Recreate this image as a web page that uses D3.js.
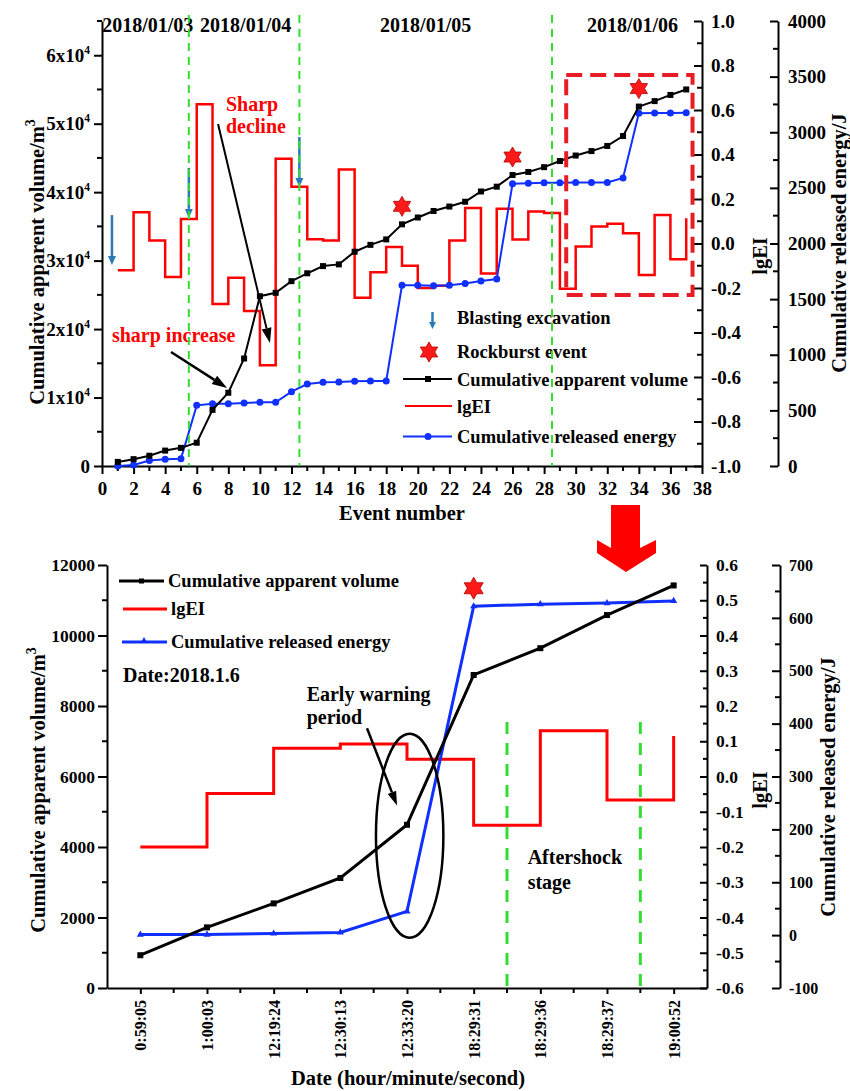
<!DOCTYPE html>
<html>
<head>
<meta charset="utf-8">
<script src="https://cdn.jsdelivr.net/npm/d3@7/dist/d3.min.js"></script>
<style>
    body { margin: 0; background: #fff; }
    svg { font-family: "Liberation Serif", "Times New Roman", serif; font-weight: bold; }
    .axis path, .axis line { stroke: #000; stroke-width: 2; }
    .axis text { font-family: "Liberation Serif", "Times New Roman", serif; font-size: 19px; font-weight: bold; fill: #000; }
    .bax text { font-size: 17.5px; }
    .small text { font-size: 16px; }
    .title { font-size: 20.5px; }
    .label { font-size: 18.5px; }
    .note { font-size: 20px; }
</style>
</head>
<body>
<svg id="chart" width="850" height="1091"></svg>
<script>
// ---- top panel data (event number 1..37) ------------------------------
var topEvents = [1, 2, 3, 4, 5, 6, 7, 8, 9, 10, 11, 12, 13, 14, 15, 16, 17, 18, 19,
                 20, 21, 22, 23, 24, 25, 26, 27, 28, 29, 30, 31, 32, 33, 34, 35, 36, 37];
var topVolume = [600, 1000, 1500, 2250, 2650, 3400, 8200, 10700, 15700, 24800, 25300, 27000,
                 28150, 29200, 29450, 31300, 32300, 33100, 35300, 36300, 37250, 37900, 38600,
                 40100, 40800, 42500, 42950, 43650, 44550, 45350, 46000, 46750, 48200, 52500,
                 53300, 54200, 55000];
var topLgEI = [-0.12, 0.14, 0.013, -0.15, 0.11, 0.626, -0.272, -0.154, -0.303, -0.547, 0.381,
               0.255, 0.019, 0.014, 0.333, -0.244, -0.129, -0.016, -0.1, -0.2, -0.19, 0.013,
               0.16, -0.135, 0.156, 0.018, 0.144, 0.137, -0.203, -0.014, 0.076, 0.089, 0.046,
               -0.142, 0.128, -0.071, 0.113];
var topEnergy = [0, 10, 50, 60, 65, 545, 560, 560, 566, 572, 572, 668, 737, 752, 755, 762, 764,
                 764, 1624, 1624, 1621, 1624, 1641, 1663, 1680, 2537, 2541, 2547, 2547, 2548,
                 2548, 2549, 2589, 3171, 3172, 3173, 3176];

var topDates = ['2018/01/03', '2018/01/04', '2018/01/05', '2018/01/06'];
var topDateAt = [2.9, 9.1, 20.5, 33.6];
var topDayBreaks = [5.5, 12.5, 28.5];
var blastEvents = [0.63, 5.5, 12.5];
var blastTipLgEI = [-0.097, 0.115, 0.254];
var rockburstEvents = [19, 26, 34];

var topXTicks = [0, 2, 4, 6, 8, 10, 12, 14, 16, 18, 20, 22, 24, 26, 28, 30, 32, 34, 36, 38];
var topVolTicks = [0, 10000, 20000, 30000, 40000, 50000, 60000];
var topLgTicks = [-1, -0.8, -0.6, -0.4, -0.2, 0, 0.2, 0.4, 0.6, 0.8, 1];
var topETicks = [0, 500, 1000, 1500, 2000, 2500, 3000, 3500, 4000];

// ---- bottom panel data (2018.1.6) ----------------------------------------
var bottomTimes = ['0:59:05', '1:00:03', '12:19:24', '12:30:13', '12:33:20',
                   '18:29:31', '18:29:36', '18:29:37', '19:00:52'];
var bottomVolume = [930, 1720, 2400, 3120, 4630, 8880, 9640, 10580, 11420];
var bottomLgEI = [-0.2, -0.048, 0.08, 0.092, 0.049, -0.138, 0.13, -0.067, 0.115];
var bottomEnergy = [1, 1, 3, 5, 45, 622, 626, 628, 632];
var bottomBreaks = [5.5, 7.5];
var bottomRockburst = [5];

var bottomVolTicks = [0, 2000, 4000, 6000, 8000, 10000, 12000];
var bottomLgTicks = [-0.6, -0.5, -0.4, -0.3, -0.2, -0.1, 0, 0.1, 0.2, 0.3, 0.4, 0.5, 0.6];
var bottomETicks = [-100, 0, 100, 200, 300, 400, 500, 600, 700];

var RED = '#ff0000', BLUE = '#1030ff', GREEN = '#33dd33', BLAST = '#2a7ab8';
var plain = function(d) { return String(d); };
var oneDec = function(d) { return d.toFixed(1); };

var svg = d3.select('#chart');

function hexStar(g, cx, cy, r) {
    var pts = [];
    for (var k = 0; k < 12; k++) {
        var a = (-90 + k * 30) * Math.PI / 180;
        var rr = k % 2 === 0 ? r : r / Math.sqrt(3);
        pts.push((cx + rr * Math.cos(a)) + ',' + (cy + rr * Math.sin(a)));
    }
    g.append('polygon')
        .attr('points', pts.join(' '))
        .attr('fill', '#ff1a1a')
        .attr('stroke', '#b00000')
        .attr('stroke-width', 0.8);
}

function arrow(g, x1, y1, x2, y2, color, width, headLen, headW) {
    var ang = Math.atan2(y2 - y1, x2 - x1);
    var hx = x2 - headLen * Math.cos(ang), hy = y2 - headLen * Math.sin(ang);
    var px = -Math.sin(ang) * headW / 2, py = Math.cos(ang) * headW / 2;
    g.append('line')
        .attr('x1', x1).attr('y1', y1).attr('x2', hx).attr('y2', hy)
        .attr('stroke', color).attr('stroke-width', width);
    g.append('polygon')
        .attr('points', [x2, y2, hx + px, hy + py, hx - px, hy - py].join(' '))
        .attr('fill', color);
}

function minorTicks(g, values, pos, fixed, len, vertical) {
    values.forEach(function(v) {
        var l = g.append('line').attr('stroke', '#000').attr('stroke-width', 2);
        if (vertical) l.attr('x1', fixed).attr('x2', fixed + len).attr('y1', pos(v)).attr('y2', pos(v));
        else l.attr('x1', pos(v)).attr('x2', pos(v)).attr('y1', fixed).attr('y2', fixed + len);
    });
}

function vTitle(x, y, txt, sup) {
    var t = svg.append('text')
        .attr('class', 'title')
        .attr('text-anchor', 'middle')
        .attr('transform', 'translate(' + x + ',' + y + ') rotate(-90)')
        .text(txt);
    if (sup) t.append('tspan').attr('dy', -9).attr('font-size', 14).text(sup);
}

//Top panel -------------------------------------------------------------
var xT = d3.scaleLinear().domain([0, 38]).range([102, 702]);
var yTv = d3.scaleLinear().domain([0, 65000]).range([466, 21]);
var yTl = d3.scaleLinear().domain([-1, 1]).range([466, 21]);
var yTe = d3.scaleLinear().domain([0, 4000]).range([466, 21]);

var tp = svg.append('g');

tp.append('g').attr('class', 'axis').attr('transform', 'translate(0,466)')
    .call(d3.axisBottom(xT).tickValues(topXTicks).tickSize(8).tickSizeOuter(0).tickPadding(8));
minorTicks(tp, topEvents.filter(function(d) { return d % 2 === 1; }), xT, 466, 5, false);

var ay = tp.append('g').attr('class', 'axis').attr('transform', 'translate(102,0)')
    .call(d3.axisLeft(yTv).tickValues(topVolTicks).tickSize(8).tickSizeOuter(0).tickPadding(4)
        .tickFormat(function(d) { return d === 0 ? '0' : (d / 10000) + 'x10'; }));
ay.selectAll('.tick text').filter(function(d) { return d > 0; })
    .append('tspan').attr('dy', -8).attr('font-size', 11.5).text('4');
minorTicks(tp, [5000, 15000, 25000, 35000, 45000, 55000, 65000], yTv, 102, -5, true);

tp.append('g').attr('class', 'axis').attr('transform', 'translate(702,0)')
    .call(d3.axisRight(yTl).tickValues(topLgTicks).tickSize(-8).tickSizeOuter(0).tickPadding(9)
        .tickFormat(oneDec));
minorTicks(tp, [-0.9, -0.7, -0.5, -0.3, -0.1, 0.1, 0.3, 0.5, 0.7, 0.9], yTl, 702, -5, true);

tp.append('g').attr('class', 'axis').attr('transform', 'translate(778,0)')
    .call(d3.axisRight(yTe).tickValues(topETicks).tickSize(-8).tickSizeOuter(0).tickPadding(10)
        .tickFormat(plain));
minorTicks(tp, [250, 750, 1250, 1750, 2250, 2750, 3250, 3750], yTe, 778, -5, true);

vTitle(44, 262, 'Cumulative apparent volume/m', '3');
vTitle(767, 256, 'lgEI');
vTitle(846, 243, 'Cumulative released energy/J');
tp.append('text').attr('class', 'title').attr('x', 402).attr('y', 520)
    .attr('text-anchor', 'middle').text('Event number');

topDates.forEach(function(d, i) {
    tp.append('text').attr('class', 'note')
        .attr('x', xT(topDateAt[i])).attr('y', 32)
        .attr('text-anchor', 'middle').text(d);
});

// lgEI step line
tp.append('path')
    .datum(topEvents)
    .attr('fill', 'none').attr('stroke', RED).attr('stroke-width', 2.5)
    .attr('d', d3.line().curve(d3.curveStepAfter)
        .x(function(d) { return xT(d); })
        .y(function(d, i) { return yTl(topLgEI[i]); }));

// cumulative released energy
tp.append('path')
    .datum(topEvents)
    .attr('fill', 'none').attr('stroke', BLUE).attr('stroke-width', 2)
    .attr('d', d3.line().x(function(d) { return xT(d); })
        .y(function(d, i) { return yTe(topEnergy[i]); }));
tp.selectAll('circle.e').data(topEvents).enter().append('circle')
    .attr('cx', function(d) { return xT(d); })
    .attr('cy', function(d, i) { return yTe(topEnergy[i]); })
    .attr('r', 3.5).attr('fill', BLUE);

// cumulative apparent volume
tp.append('path')
    .datum(topEvents)
    .attr('fill', 'none').attr('stroke', '#000').attr('stroke-width', 2)
    .attr('d', d3.line().x(function(d) { return xT(d); })
        .y(function(d, i) { return yTv(topVolume[i]); }));
tp.selectAll('rect.v').data(topEvents).enter().append('rect')
    .attr('x', function(d) { return xT(d) - 3; })
    .attr('y', function(d, i) { return yTv(topVolume[i]) - 3; })
    .attr('width', 6).attr('height', 6).attr('fill', '#000');

// rockburst stars
rockburstEvents.forEach(function(e) {
    hexStar(tp, xT(e), yTv(topVolume[e - 1]) - 18, 10);
});

// blasting arrows
blastEvents.forEach(function(e, i) {
    var yt = yTl(blastTipLgEI[i]);
    arrow(tp, xT(e), yt - 50, xT(e), yt, BLAST, 2.5, 9, 8);
});

// dashed box round 2018/01/06
tp.append('rect')
    .attr('x', xT(29.4)).attr('y', yTl(0.757))
    .attr('width', xT(37.4) - xT(29.4)).attr('height', yTl(-0.231) - yTl(0.757))
    .attr('fill', 'none').attr('stroke', '#e81c24').attr('stroke-width', 4)
    .attr('stroke-dasharray', '16,8');

// annotations
tp.append('text').attr('class', 'note').attr('fill', RED)
    .attr('x', xT(7.85)).attr('y', yTv(51850)).text('Sharp');
tp.append('text').attr('class', 'note').attr('fill', RED)
    .attr('x', xT(7.85)).attr('y', yTv(48640)).text('decline');
arrow(tp, xT(7.35), yTv(49960), xT(10.64), yTv(17970), '#000', 2, 15, 10);
tp.append('text').attr('class', 'note').attr('fill', RED)
    .attr('x', xT(0.63)).attr('y', yTv(18160)).text('sharp increase');
arrow(tp, xT(4.37), yTv(16650), xT(7.92), yTv(11390), '#000', 2.5, 15, 10);

// legend
var lg = tp.append('g');
arrow(lg, 432.5, 312, 432.5, 329, BLAST, 2.5, 7, 7);
lg.append('text').attr('class', 'label').attr('x', 457).attr('y', 324).text('Blasting excavation');
hexStar(lg, 429, 352, 10);
lg.append('text').attr('class', 'label').attr('x', 457).attr('y', 358).text('Rockburst event');
lg.append('line').attr('x1', 403).attr('x2', 452).attr('y1', 379).attr('y2', 379)
    .attr('stroke', '#000').attr('stroke-width', 2);
lg.append('rect').attr('x', 425).attr('y', 376).attr('width', 6).attr('height', 6).attr('fill', '#000');
lg.append('text').attr('class', 'label').attr('x', 457).attr('y', 385.5).text('Cumulative apparent volume');
lg.append('line').attr('x1', 405).attr('x2', 452).attr('y1', 406).attr('y2', 406)
    .attr('stroke', RED).attr('stroke-width', 2);
lg.append('text').attr('class', 'label').attr('x', 457).attr('y', 412.5).text('lgEI');
lg.append('line').attr('x1', 403).attr('x2', 452).attr('y1', 436.5).attr('y2', 436.5)
    .attr('stroke', BLUE).attr('stroke-width', 2);
lg.append('circle').attr('cx', 428).attr('cy', 436.5).attr('r', 3.5).attr('fill', BLUE);
lg.append('text').attr('class', 'label').attr('x', 457).attr('y', 443).text('Cumulative released energy');

// day separators
topDayBreaks.forEach(function(e) {
    tp.append('line')
        .attr('x1', xT(e)).attr('x2', xT(e)).attr('y1', 15).attr('y2', 466)
        .attr('stroke', GREEN).attr('stroke-width', 2).attr('stroke-dasharray', '8,6');
});

// big arrow between panels
svg.append('polygon')
    .attr('points', '611,505 640,505 640,548 656,540 656,553 626,572 597,553 597,540 611,548')
    .attr('fill', '#ff0000');

//Bottom panel ----------------------------------------------------------
var idx = bottomTimes.map(function(d, i) { return i; });
var xB = d3.scaleLinear().domain([-0.5, 8.5]).range([107, 707]);
var yBv = d3.scaleLinear().domain([0, 12000]).range([988, 565]);
var yBl = d3.scaleLinear().domain([-0.6, 0.6]).range([988, 565]);
var yBe = d3.scaleLinear().domain([-100, 700]).range([988, 565]);

var bt = svg.append('g');

var bxa = bt.append('g').attr('class', 'axis small').attr('transform', 'translate(0,988)')
    .call(d3.axisBottom(xB).tickValues(idx).tickSize(6).tickSizeOuter(0)
        .tickFormat(function(i) { return bottomTimes[i]; }));
bxa.selectAll('.tick text')
    .attr('transform', 'rotate(-90)')
    .attr('text-anchor', 'end')
    .attr('x', -12).attr('y', 0).attr('dy', '0.35em');
minorTicks(bt, idx.slice(0, 8).map(function(i) { return i + 0.5; }), xB, 988, 5, false);

bt.append('g').attr('class', 'axis bax').attr('transform', 'translate(107,0)')
    .call(d3.axisLeft(yBv).tickValues(bottomVolTicks).tickSize(9).tickSizeOuter(0).tickPadding(3)
        .tickFormat(plain));
minorTicks(bt, [1000, 3000, 5000, 7000, 9000, 11000], yBv, 107, -5, true);

bt.append('g').attr('class', 'axis bax').attr('transform', 'translate(707,0)')
    .call(d3.axisRight(yBl).tickValues(bottomLgTicks).tickSize(-7).tickSizeOuter(0).tickPadding(9)
        .tickFormat(oneDec));
minorTicks(bt, [-0.55, -0.45, -0.35, -0.25, -0.15, -0.05, 0.05, 0.15, 0.25, 0.35, 0.45, 0.55], yBl, 707, -4, true);

bt.append('g').attr('class', 'axis small').attr('transform', 'translate(780,0)')
    .call(d3.axisRight(yBe).tickValues(bottomETicks).tickSize(-8).tickSizeOuter(0).tickPadding(9)
        .tickFormat(plain));
minorTicks(bt, [-50, 50, 150, 250, 350, 450, 550, 650], yBe, 780, -5, true);

vTitle(45, 790, 'Cumulative apparent volume/m', '3');
vTitle(767, 790, 'lgEI');
vTitle(835, 787, 'Cumulative released energy/J');
bt.append('text').attr('class', 'title').attr('x', 408).attr('y', 1085)
    .attr('text-anchor', 'middle').text('Date (hour/minute/second)');

bt.append('path')
    .datum(idx)
    .attr('fill', 'none').attr('stroke', RED).attr('stroke-width', 3)
    .attr('d', d3.line().curve(d3.curveStepAfter)
        .x(function(i) { return xB(i); })
        .y(function(i) { return yBl(bottomLgEI[i]); }));

bt.append('path')
    .datum(idx)
    .attr('fill', 'none').attr('stroke', BLUE).attr('stroke-width', 3)
    .attr('d', d3.line().x(function(i) { return xB(i); })
        .y(function(i) { return yBe(bottomEnergy[i]); }));
bt.selectAll('path.tri').data(idx).enter().append('path')
    .attr('d', d3.symbol().type(d3.symbolTriangle).size(22))
    .attr('transform', function(i) { return 'translate(' + xB(i) + ',' + yBe(bottomEnergy[i]) + ')'; })
    .attr('fill', BLUE);

bt.append('path')
    .datum(idx)
    .attr('fill', 'none').attr('stroke', '#000').attr('stroke-width', 3)
    .attr('d', d3.line().x(function(i) { return xB(i); })
        .y(function(i) { return yBv(bottomVolume[i]); }));
bt.selectAll('rect.v').data(idx).enter().append('rect')
    .attr('x', function(i) { return xB(i) - 3; })
    .attr('y', function(i) { return yBv(bottomVolume[i]) - 3; })
    .attr('width', 6).attr('height', 6).attr('fill', '#000');

bottomRockburst.forEach(function(i) {
    hexStar(bt, xB(i), yBe(bottomEnergy[i]) - 18, 11);
});

bottomBreaks.forEach(function(v) {
    bt.append('line')
        .attr('x1', xB(v)).attr('x2', xB(v)).attr('y1', 722).attr('y2', 988)
        .attr('stroke', GREEN).attr('stroke-width', 3).attr('stroke-dasharray', '12,9');
});

// early warning ellipse and notes
bt.append('ellipse')
    .attr('cx', xB(4.04)).attr('cy', yBv(4320)).attr('rx', 33.7).attr('ry', 102)
    .attr('fill', 'none').attr('stroke', '#000').attr('stroke-width', 2.5);
bt.append('text').attr('class', 'note').attr('x', xB(2.495)).attr('y', yBv(8140)).text('Early warning');
bt.append('text').attr('class', 'note').attr('x', xB(2.495)).attr('y', yBv(7480)).text('period');
arrow(bt, xB(3.4), yBv(7370), xB(3.85), yBv(5180), '#000', 2.5, 14, 9);
bt.append('text').attr('class', 'note').attr('x', xB(5.81)).attr('y', yBv(3510)).text('Aftershock');
bt.append('text').attr('class', 'note').attr('x', xB(5.81)).attr('y', yBv(2800)).text('stage');

// bottom legend
var lb = bt.append('g');
lb.append('line').attr('x1', 119).attr('x2', 164).attr('y1', 581).attr('y2', 581)
    .attr('stroke', '#000').attr('stroke-width', 3);
lb.append('rect').attr('x', 139).attr('y', 578.5).attr('width', 5).attr('height', 5).attr('fill', '#000');
lb.append('text').attr('class', 'label').attr('x', 168).attr('y', 587).text('Cumulative apparent volume');
lb.append('line').attr('x1', 123).attr('x2', 167).attr('y1', 609).attr('y2', 609)
    .attr('stroke', RED).attr('stroke-width', 3);
lb.append('text').attr('class', 'label').attr('x', 171).attr('y', 615).text('lgEI');
lb.append('line').attr('x1', 122).attr('x2', 167).attr('y1', 642).attr('y2', 642)
    .attr('stroke', BLUE).attr('stroke-width', 3);
lb.append('path').attr('d', d3.symbol().type(d3.symbolTriangle).size(20))
    .attr('transform', 'translate(144,641)').attr('fill', BLUE);
lb.append('text').attr('class', 'label').attr('x', 171).attr('y', 648).text('Cumulative released energy');
lb.append('text').attr('class', 'note').attr('x', 123).attr('y', 682).attr('font-size', 19).text('Date:2018.1.6');
</script>
</body>
</html>
